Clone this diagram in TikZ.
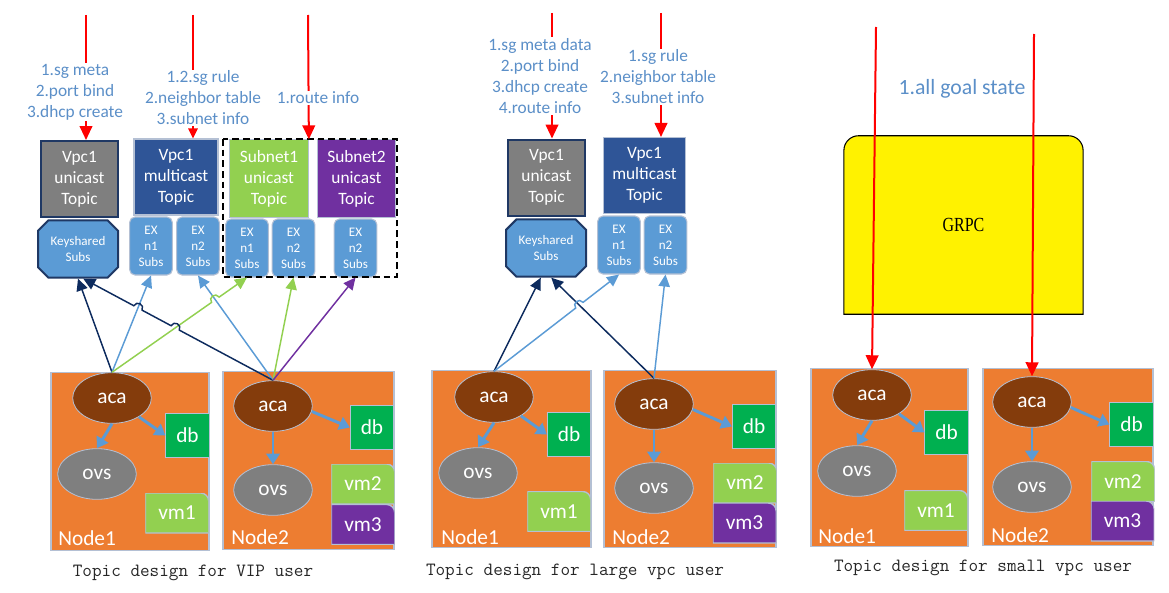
\documentclass[tikz,border=0pt]{standalone}
\usepackage{fontspec}
\newfontfamily\calibri{Carlito}
\newfontfamily\grpcserif{Liberation Serif}[FakeStretch=0.8]
\usetikzlibrary{arrows.meta,shapes.geometric,shapes.misc,calc,intersections}

\definecolor{hostorange}{HTML}{ED7D31}
\definecolor{acabrown}{HTML}{843C0C}
\definecolor{dbgreen}{HTML}{00B050}
\definecolor{vmgreen}{HTML}{92D050}
\definecolor{vmpurple}{HTML}{7030A0}
\definecolor{topicgray}{HTML}{7F7F7F}
\definecolor{castblue}{HTML}{2F5597}
\definecolor{subsblue}{HTML}{5B9BD5}
\definecolor{subsnavy}{HTML}{1F3864}
\definecolor{navyline}{HTML}{0D2B5E}
\definecolor{edgegray}{HTML}{B4C0D4}
\definecolor{noteblue}{HTML}{5B8FC8}
\definecolor{feedred}{HTML}{FF0000}

\newcommand\topicfont{\calibri\fontsize{13}{15.75}\selectfont}
\newcommand\subsfont{\calibri\fontsize{9.8}{12}\selectfont}
\newcommand\hostfont{\calibri\fontsize{16}{19}\selectfont}
\newcommand\notefont{\calibri\fontsize{13}{15.75}\selectfont}
\newcommand\goalfont{\calibri\fontsize{16.3}{19}\selectfont}
\newcommand\capfont{\ttfamily\fontsize{14}{16}\selectfont}

\tikzset{
  topicnode/.style = {rectangle, align=center, text=white, inner sep=0pt,
    font=\topicfont, minimum width=59pt, minimum height=58pt},
  uninode/.style = {topicnode, fill=topicgray, draw=subsnavy, line width=1.5pt,
    minimum width=58pt, minimum height=57pt},
  castnode/.style = {topicnode, fill=#1, draw=edgegray, line width=0.8pt},
  subsnode/.style = {rectangle, rounded corners=4pt, align=center, text=white,
    fill=subsblue, draw=edgegray, line width=0.8pt, inner sep=0pt,
    font=\subsfont, minimum width=32pt, minimum height=43.5pt},
  keynode/.style = {chamfered rectangle, chamfered rectangle xsep=5pt,
    align=center, text=white, fill=subsblue, draw=subsnavy, line width=1.5pt,
    inner sep=0pt, font=\subsfont, minimum width=60pt, minimum height=43pt},
  hostnode/.style = {rectangle, fill=hostorange, draw=edgegray, line width=0.8pt,
    minimum width=#1, minimum height=133pt},
  acanode/.style = {ellipse, fill=acabrown, draw=edgegray, line width=0.6pt,
    text=white, font=\hostfont, inner sep=0pt, minimum width=59pt, minimum height=38pt},
  ovsnode/.style = {acanode, fill=topicgray},
  dbnode/.style = {rectangle, fill=dbgreen, draw=edgegray, line width=0.6pt,
    text=white, font=\hostfont, inner sep=0pt, minimum size=32.5pt},
  vmnode/.style = {rectangle, text=white, font=\hostfont, inner sep=0pt,
    minimum width=47.5pt, minimum height=30pt,
    path picture={\filldraw[fill=#1, draw=edgegray, line width=1pt]
      (path picture bounding box.south west) -- (path picture bounding box.north west)
      -- ([xshift=-6pt]path picture bounding box.north east)
      arc[start angle=90, end angle=0, radius=6pt]
      -- (path picture bounding box.south east) -- cycle;}},
  hostlabel/.style = {anchor=west, text=white, font=\hostfont, inner sep=0pt},
  notenode/.style = {align=center, text=noteblue, font=\notefont, fill=white,
    inner sep=1pt},
  capnode/.style = {font=\capfont, text=black!85},
  groupbox/.style = {draw=black, dash pattern=on 5pt off 3pt, line width=1.1pt},
  grpcnode/.style = {rectangle, inner sep=0pt, minimum width=179pt, minimum height=133.5pt},
  feedarrow/.style = {draw=feedred, line width=1.5pt, -{Triangle[length=10.5pt,width=9.5pt]}},
  feedsmall/.style = {feedarrow, -{Triangle[length=7.5pt,width=7pt]}},
  subarrow/.style = {line width=1.1pt, -{Triangle[length=9pt,width=8.5pt]}},
  navyarrow/.style = {subarrow, draw=navyline},
  skyarrow/.style = {subarrow, draw=subsblue},
  grassarrow/.style = {subarrow, draw=vmgreen},
  plumarrow/.style = {subarrow, draw=vmpurple},
  innerarrow/.style = {draw=subsblue, line width=2.2pt, -{Triangle[length=8pt,width=10pt]}},
  hopleft/.style = {bend left=90, looseness=1.7},
  hopright/.style = {bend right=90, looseness=1.7},
}

\begin{document}
\begin{tikzpicture}[x=0.75pt, y=-0.75pt]
  \useasboundingbox (0,0) rectangle (1169,592);

  % ---------- Topic design for VIP user ----------
  \node (uni1) [uninode] at (79.5,179) {Vpc1\\unicast\\Topic};
  \node (key1) [keynode] at (78,249) {Keyshared\\Subs};
  \node (mc1) [castnode=castblue, minimum width=63pt, minimum height=57pt] at (176,177) {Vpc1\\multicast\\Topic};
  \node (ex1a) [subsnode] at (151,246) {EX\\n1\\Subs};
  \node (ex1b) [subsnode] at (198,246) {EX\\n2\\Subs};
  \node (sn1) [castnode=vmgreen] at (269,178.5) {Subnet1\\unicast\\Topic};
  \node (sn2) [castnode=vmpurple] at (356.5,178.5) {Subnet2\\unicast\\Topic};
  \node (ex1c) [subsnode] at (247,248) {EX\\n1\\Subs};
  \node (ex1d) [subsnode] at (293.5,248) {EX\\n2\\Subs};
  \node (ex1e) [subsnode] at (355.5,248) {EX\\n2\\Subs};
  \draw[groupbox] (223,139) rectangle (397,277);

  \node (host1a) [hostnode=118.5pt] at (130,461.5) {};
  \node (aca1a) [acanode] at (112,398) {aca};
  \node (db1a) [dbnode] at (187.5,435.5) {db};
  \node (ovs1a) [ovsnode] at (97,474) {ovs};
  \node (vm1a) [vmnode=vmgreen] at (177,513) {vm1};
  \node (lbl1a) [hostlabel] at (58,538) {Node1};
  \draw[innerarrow] (aca1a.south) -- (ovs1a.north);
  \draw[innerarrow] (aca1a.-35) -- (db1a.west);

  \node (host1b) [hostnode=128.25pt] at (308.5,460.5) {};
  \node (aca1b) [acanode] at (273,406) {aca};
  \node (db1b) [dbnode] at (372,427.5) {db};
  \node (ovs1b) [ovsnode] at (273,490) {ovs};
  \node (vm2a) [vmnode=vmgreen] at (363,484) {vm2};
  \node (vm3a) [vmnode=vmpurple] at (363,524.5) {vm3};
  \node (lbl1b) [hostlabel] at (231,537) {Node2};
  \draw[innerarrow] (aca1b.south) -- (ovs1b.north);
  \draw[innerarrow] (aca1b.-8) -- (db1b.west);

  \coordinate (feed1) at (86,15);
  \coordinate (feed2) at (193,15);
  \coordinate (feed3) at (308,15);
  \draw[feedarrow] (feed1) -- (feed1 |- uni1.north);
  \draw[feedsmall] (feed2) -- (feed2 |- mc1.north);
  \draw[feedarrow] (feed3) -- (sn1.north east);
  \node (note1) [notenode] at (75,92) {1.sg meta\\2.port bind\\3.dhcp create};
  \node (note2) [notenode] at (203,98) {1.2.sg rule\\2.neighbor table\\3.subnet info};
  \node (note3) [notenode] at (318,98) {1.route info};

  \draw[navyarrow] (aca1a.north) -- (key1.south);
  \draw[skyarrow, name path=b1] (aca1a.north) -- (ex1a.south);
  \draw[skyarrow, name path=b2] (aca1b.north) -- (ex1b.south);
  \path[name path=g1] (aca1a.north) -- (ex1c.south);
  \path[name path=n2] (aca1b.north) -- (key1.-80);
  \path[name intersections={of=g1 and b2, by=hop1}];
  \path[name intersections={of=n2 and g1, by=hop2}];
  \path[name intersections={of=n2 and b1, by=hop3}];
  \draw[grassarrow] (aca1a.north) -- ($(hop1)!3.5pt!(aca1a.north)$)
    to[hopleft] ($(hop1)!3.5pt!(ex1c.south)$) -- (ex1c.south);
  \draw[navyarrow] (aca1b.north) -- ($(hop2)!3.5pt!(aca1b.north)$)
    to[hopright] ($(hop2)!3.5pt!(key1.-80)$) -- ($(hop3)!3.5pt!(aca1b.north)$)
    to[hopright] ($(hop3)!3.5pt!(key1.-80)$) -- (key1.-80);
  \draw[grassarrow] (aca1b.north) -- (ex1d.south);
  \draw[plumarrow] (aca1b.north) -- (ex1e.south);

  \node (cap1) [capnode] at (193,573) {Topic design for VIP user};

  % ---------- Topic design for large vpc user ----------
  \node (uni2) [uninode] at (546.5,177.5) {Vpc1\\unicast\\Topic};
  \node (key2) [keynode] at (546,248) {Keyshared\\Subs};
  \node (mc2) [castnode=castblue, minimum width=62pt, minimum height=57pt] at (644.5,175.5) {Vpc1\\multicast\\Topic};
  \node (ex2a) [subsnode] at (619,245) {EX\\n1\\Subs};
  \node (ex2b) [subsnode] at (665.5,245) {EX\\n2\\Subs};

  \node (host2a) [hostnode=119.25pt] at (511.5,459) {};
  \node (aca2a) [acanode] at (494,397) {aca};
  \node (db2a) [dbnode] at (569,434.5) {db};
  \node (ovs2a) [ovsnode] at (478,473) {ovs};
  \node (vm1b) [vmnode=vmgreen] at (559,511.5) {vm1};
  \node (lbl2a) [hostlabel] at (441,537) {Node1};
  \draw[innerarrow] (aca2a.south) -- (ovs2a.north);
  \draw[innerarrow] (aca2a.-35) -- (db2a.west);

  \node (host2b) [hostnode=129pt] at (690,459) {};
  \node (aca2b) [acanode] at (654,404) {aca};
  \node (db2b) [dbnode] at (754,426.5) {db};
  \node (ovs2b) [ovsnode] at (654,488) {ovs};
  \node (vm2b) [vmnode=vmgreen] at (745,483) {vm2};
  \node (vm3b) [vmnode=vmpurple] at (744.5,523) {vm3};
  \node (lbl2b) [hostlabel] at (612,537) {Node2};
  \draw[innerarrow] (aca2b.south) -- (ovs2b.north);
  \draw[innerarrow] (aca2b.-8) -- (db2b.west);

  \coordinate (feed4) at (552,13);
  \coordinate (feed5) at (661,13);
  \draw[feedarrow] (feed4) -- (feed4 |- uni2.north);
  \draw[feedarrow] (feed5) -- (feed5 |- mc2.north);
  \node (note4) [notenode] at (540,76) {1.sg meta data\\2.port bind\\3.dhcp create\\4.route info};
  \node (note5) [notenode] at (658,77) {1.sg rule\\2.neighbor table\\3.subnet info};

  \draw[navyarrow] (aca2a.north) -- (key2.-100);
  \draw[navyarrow, name path=n4] (aca2b.north) -- (key2.-80);
  \path[name path=b3] (aca2a.north) -- (ex2a.south);
  \path[name intersections={of=b3 and n4, by=hop4}];
  \draw[skyarrow] (aca2a.north) -- ($(hop4)!3.5pt!(aca2a.north)$)
    to[hopleft] ($(hop4)!3.5pt!(ex2a.south)$) -- (ex2a.south);
  \draw[skyarrow] (aca2b.north) -- (ex2b.south);

  \node (cap2) [capnode] at (575,572) {Topic design for large vpc user};

  % ---------- Topic design for small vpc user ----------
  \node (grpc) [grpcnode] at (963.5,225) {};
  \draw[fill=yellow, draw=black, line width=0.8pt] (grpc.south west)
    -- ([yshift=-11pt]grpc.north west) arc[start angle=180, end angle=90, radius=11pt]
    -- ([xshift=-11pt]grpc.north east) arc[start angle=90, end angle=0, radius=11pt]
    -- (grpc.south east) -- cycle;
  \node (grpctext) [font=\grpcserif\fontsize{15}{18}\selectfont] at (grpc) {GRPC};
  \node (goal3) [notenode, fill=none, font=\goalfont] at (962,89) {1.all goal state};

  \node (host3a) [hostnode=117.75pt] at (889.5,457.5) {};
  \node (aca3a) [acanode] at (872,395) {aca};
  \node (db3a) [dbnode] at (946.5,432.5) {db};
  \node (ovs3a) [ovsnode] at (857,471) {ovs};
  \node (vm1c) [vmnode=vmgreen] at (936,510.5) {vm1};
  \node (lbl3a) [hostlabel] at (818,536) {Node1};
  \draw[innerarrow] (aca3a.south) -- (ovs3a.north);
  \draw[innerarrow] (aca3a.-35) -- (db3a.west);

  \node (host3b) [hostnode=127.5pt] at (1068,457) {};
  \node (aca3b) [acanode] at (1032,402) {aca};
  \node (db3b) [dbnode] at (1131.5,424.5) {db};
  \node (ovs3b) [ovsnode] at (1032,487) {ovs};
  \node (vm2c) [vmnode=vmgreen] at (1123,481.5) {vm2};
  \node (vm3c) [vmnode=vmpurple] at (1122.5,521) {vm3};
  \node (lbl3b) [hostlabel] at (991,535) {Node2};
  \draw[innerarrow] (aca3b.south) -- (ovs3b.north);
  \draw[innerarrow] (aca3b.-8) -- (db3b.west);

  \coordinate (feed6) at (876,27);
  \coordinate (feed7) at (1034,34);
  \draw[feedarrow] (feed6) -- (aca3a.north);
  \draw[feedarrow] (feed7) -- (aca3b.north);

  \node (cap3) [capnode] at (983,568) {Topic design for small vpc user};
\end{tikzpicture}
\end{document}
